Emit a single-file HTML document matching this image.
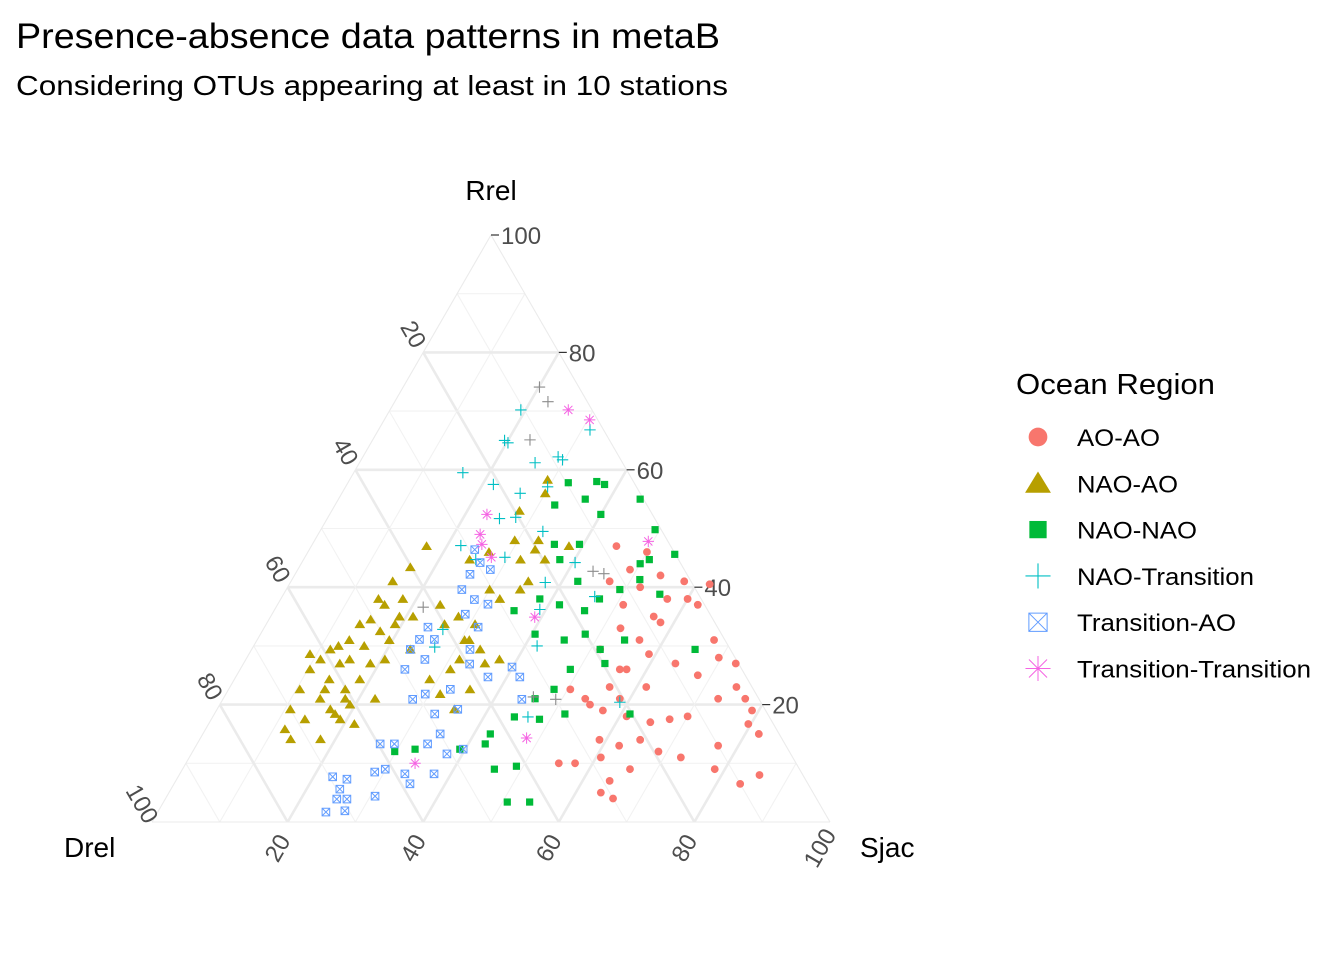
<!DOCTYPE html>
<html><head><meta charset="utf-8"><style>
html,body{margin:0;padding:0;background:#fff;}
svg{display:block;font-family:"Liberation Sans",Arial,sans-serif;}
</style></head><body>
<svg id="chart" width="1344" height="960" viewBox="0 0 1344 960">
<text x="16" y="48" font-size="35" textLength="704" lengthAdjust="spacingAndGlyphs" fill="#000">Presence-absence data patterns in metaB</text>
<text x="16" y="95" font-size="28" textLength="712" lengthAdjust="spacingAndGlyphs" fill="#000">Considering OTUs appearing at least in 10 stations</text>
<g id="grid"></g>
<g id="ticks"></g>
<g id="points"></g>
<text x="491" y="200" font-size="28" text-anchor="middle">Rrel</text>
<text x="64" y="857" font-size="28">Drel</text>
<text x="860" y="857" font-size="28">Sjac</text>
<g id="legend">
<text x="1016" y="394" font-size="29" textLength="199" lengthAdjust="spacingAndGlyphs">Ocean Region</text>
</g>
</svg>
<script>
// data: [Sjac, Rrel] percentages; Drel = 100 - Sjac - Rrel
const seriesNames = ["AO-AO","NAO-AO","NAO-NAO","NAO-Transition","Transition-AO","Transition-Transition"];
const seriesColors = ["#F8766D","#B79F00","#00BA38","#00BFC4","#619CFF","#F564E3"];
const aoAo = [[45,47],[50,46],[49,43],[54,42],[58,41],[47,41],[52,40],[57,38],[60,38],[51,37],[56.5,35],[62,37],[52.6,33],[56.4,31],[58,34],[67.4,31],[69.6,28],[68,25],[56,26],[57,26],[61.4,23],[56,23],[54.6,20],[57,19],[61,18],[65,17],[67.6,17.5],[70,18],[73,21],[74.7,23],[77,21],[79,19],[82,15],[79.6,16.7],[59,14],[62.4,13],[65,14],[68.7,12],[72.5,11],[60.7,11],[57.4,10],[55,10],[64,7],[66,9],[63.7,5],[66,4],[77,13],[78.5,9],[83.5,6.5],[85.6,8],[59,28.6],[63.7,27],[51.4,29.4],[53.4,21],[50.4,22.6],[58.5,21],[62,40.5],[72.6,27]];
const naoAo = [[29.2,58.3],[30,56],[27.7,53],[33,48],[29.5,48],[38,47],[26.7,46],[17,47],[16.4,43.4],[15,41],[14.4,38],[18,38],[15.8,37],[19,35],[15,34.5],[13.8,33.7],[21,35],[19,33.7],[17.4,32.5],[13.6,31],[12.5,30],[11.6,29.4],[16.3,30],[19.5,31],[23.4,29.4],[24,37],[27.7,35],[30.8,33.7],[31.3,31],[33.7,29.4],[32.3,38],[34.5,39.6],[35,41],[35.6,44.7],[30,39.6],[37.4,27.7],[35.6,27],[31.5,27.7],[31,26],[28.8,24.3],[31.6,21.8],[35.6,22.6],[35,19.2],[11,27.7],[10.3,26],[14,24.3],[17.2,22.6],[18.5,24.3],[14.3,21],[10.5,22.6],[10.8,19.2],[11.7,15.8],[13.4,14.1],[17.8,14.1],[19,17.5],[19.2,20],[22.4,21],[24.5,44.7],[32,44.7],[33.3,46.4],[30.6,31],[26.3,33.7],[15.3,27.7],[18.7,27],[20.5,27.7],[9,28.6],[17.8,18.4],[21.5,16.7],[14.2,27],[14.2,22.6],[18,21],[13.8,17.5],[16.7,19.2]];
const naoNao = [[36.6,58],[38,57.5],[32.5,57.8],[36.4,55],[32.4,54],[40,52.4],[44.5,55],[49.3,49.8],[51,44.7],[50,44],[42.3,41],[47,38],[38.2,38],[35.4,36],[41.6,37],[45.8,36],[40.5,32],[45.3,31],[47.9,32],[48.7,26],[48,22.6],[51.7,18.4],[51.4,29.4],[53.3,27],[54.2,31],[55.5,38.8],[65.4,29.4],[46,21],[44.5,17.9],[42.4,15],[42.5,13.3],[39.2,12.4],[32.6,12.4],[29.8,12],[46,9],[49,9.5],[54,3.4],[50.7,3.4],[48.4,17.5],[61.3,18.4],[37.8,44.7],[35.7,47.3],[39.4,47.3],[51.3,41.3],[49.2,39.6],[54.3,45.6]];
const naoTransition = [[19.3,70.2],[19.5,65],[20.2,64.6],[16.1,59.5],[25.9,61.2],[28.8,62.2],[29.7,61.7],[21.6,57.5],[26.3,56],[29.8,57.1],[25.4,51.7],[27.7,51.9],[32.9,49.5],[22,47.1],[25.4,44.7],[29.5,45.1],[40.3,44.2],[37.6,40.8],[46.1,38.4],[39.1,36.2],[41.8,30],[58.8,20.4],[46.5,17.9],[26.8,29.8],[31.2,66.8],[26.5,32.8]];
const transitionAo = [[24.4,46.4],[26.3,44.2],[25.8,42.2],[28.4,43],[25.9,39.6],[28.6,37.9],[31,37.1],[28.5,35.4],[31.5,33.2],[24.1,33.2],[23.9,31.1],[23.4,29.4],[26.1,31.1],[26.4,27.7],[32.2,29.4],[39.9,26.4],[41.9,24.7],[37.2,24.7],[33.4,26.9],[24.3,26],[32.7,22.6],[29.4,21.8],[28,20.9],[32.5,18.4],[35.5,19.2],[44.1,20.9],[27,13.3],[29.1,13.3],[34,13.3],[35,15],[33.2,8.2],[28.6,8.5],[29.9,9],[25.1,7.3],[22.8,7.7],[24.9,5.6],[25.3,3.9],[26.8,3.9],[24.8,1.7],[27.5,1.9],[30.7,4.4],[37.5,8.2],[39.7,12.4],[37.7,11.6],[34.8,6.5]];
const transitionTransition = [[26.3,70.2],[30.3,68.5],[23.2,52.4],[25,47.3],[27.5,45.1],[39,34.9],[49.3,47.8],[48.1,14.3],[33.8,10],[23.9,49]];
const overlapPoints = [[20.1,74.1],[22.6,71.6],[23.2,65.1],[43.7,42.7],[45.5,42.3],[21.7,36.6],[45.6,21.3],[49.1,20.9]];
const gridValues = [10,20,30,40,50,60,70,80,90];
const rrelTickLabels = ["20","40","60","80","100"];
const sideTickLabels = ["20","40","60","80","100"];

const NS="http://www.w3.org/2000/svg";
const X0=152, Y0=822, W=678, H=587;
function px(s,r){return X0+(s+r/2)/100*W;}
function py(r){return Y0-r/100*H;}
function mk(tag,attrs,parent){const e=document.createElementNS(NS,tag);for(const k in attrs)e.setAttribute(k,attrs[k]);parent.appendChild(e);return e;}

const grid=document.getElementById('grid');
gridValues.forEach(v=>{
  const major=v%20===0;
  const st=major?"#ebebeb":"#f2f2f2", sw=major?2.6:1.1;
  let l=mk('line',{x1:px(0,v),y1:py(v),x2:px(100-v,v),y2:py(v),stroke:st,'stroke-width':sw},grid);
  
  
  l=mk('line',{x1:px(v,0),y1:py(0),x2:px(v,100-v),y2:py(100-v),stroke:st,'stroke-width':sw},grid);
  
  
  const d=v; l=mk('line',{x1:px(100-d,0),y1:py(0),x2:px(0,100-d),y2:py(100-d),stroke:st,'stroke-width':sw},grid);
  
  
});
[[0,0,100,0],[0,0,0,100],[100,0,0,100]].forEach(e=>{
  const l=mk('line',{x1:px(e[0],e[1]),y1:py(e[1]),x2:px(e[2],e[3]),y2:py(e[3]),stroke:"#ebebeb",'stroke-width':1.1},grid);
  
  
});

const ticks=document.getElementById('ticks');
rrelTickLabels.forEach((lab,i)=>{
  const r=+lab, x=px(100-r,r), y=py(r);
  let l=mk('line',{x1:x,y1:y,x2:x+8,y2:y,stroke:"#333",'stroke-width':1.2},ticks);
  
  
  const t=mk('text',{x:x+10,y:y+9,'font-size':24,fill:"#4d4d4d"},ticks);t.textContent=lab;
  
  
});
sideTickLabels.forEach(lab=>{
  const v=+lab;
  const lx=px(0,100-v)-10, ly=py(100-v)-18;
  let t=mk('text',{x:lx,y:ly+8,'font-size':24,fill:"#4d4d4d",'text-anchor':'middle',transform:`rotate(60 ${lx} ${ly})`},ticks);t.textContent=lab;
  
  
  const bx=px(v,0)-10, by=Y0+26;
  t=mk('text',{x:bx,y:by+8,'font-size':24,fill:"#4d4d4d",'text-anchor':'middle',transform:`rotate(-60 ${bx} ${by})`},ticks);t.textContent=lab;
  
  
});

function drawSym(g,type,x,y,c,sc){
  sc=sc||1;
  if(type===0){mk('circle',{cx:x,cy:y,r:3.9*sc,fill:c},g);}
  else if(type===1){const a=4.9*sc;mk('polygon',{points:`${x},${y-a} ${x+a*1.1},${y+a*0.8} ${x-a*1.1},${y+a*0.8}`,fill:c},g);}
  else if(type===2){const a=3.6*sc;mk('rect',{x:x-a,y:y-a,width:2*a,height:2*a,fill:c},g);}
  else if(type===3){const a=5.7*sc;mk('path',{d:`M${x-a} ${y}H${x+a}M${x} ${y-a}V${y+a}`,stroke:c,'stroke-width':1.1,fill:'none'},g);}
  else if(type===4){const a=3.8*sc;mk('path',{d:`M${x-a} ${y-a}H${x+a}V${y+a}H${x-a}ZM${x-a} ${y-a}L${x+a} ${y+a}M${x+a} ${y-a}L${x-a} ${y+a}`,stroke:c,'stroke-width':1,fill:'none'},g);}
  else if(type===5){const a=5.7*sc,b=a*0.72;mk('path',{d:`M${x-a} ${y}H${x+a}M${x} ${y-a}V${y+a}M${x-b} ${y-b}L${x+b} ${y+b}M${x+b} ${y-b}L${x-b} ${y+b}`,stroke:c,'stroke-width':1,fill:'none'},g);}
}
const pts=document.getElementById('points');
const allSeries=[aoAo,naoAo,naoNao,naoTransition,transitionAo,transitionTransition];
allSeries.forEach((arr,si)=>{
  const g=mk('g',{},pts);
  
  
  arr.forEach(p=>drawSym(g,si,px(p[0],p[1]),py(p[1]),seriesColors[si]));
});
const og=mk('g',{},pts);


overlapPoints.forEach(p=>drawSym(og,3,px(p[0],p[1]),py(p[1]),"#8c8c8c"));

const legendLengths=[83,101,120,177,159,234];
const leg=document.getElementById('legend');
seriesNames.forEach((n,i)=>{
  const y=437+i*46.3;
  const g=mk('g',{},leg);
  
  
  const sc=[2.4,2.4,2.4,2.2,2.4,2.2][i];
  drawSym(g,i,1038,y,seriesColors[i],sc);
  const t=mk('text',{x:1077,y:y+9,'font-size':24.5,fill:"#000",textLength:legendLengths[i],lengthAdjust:'spacingAndGlyphs'},g);t.textContent=n;
  
  
});
</script>
</body></html>
